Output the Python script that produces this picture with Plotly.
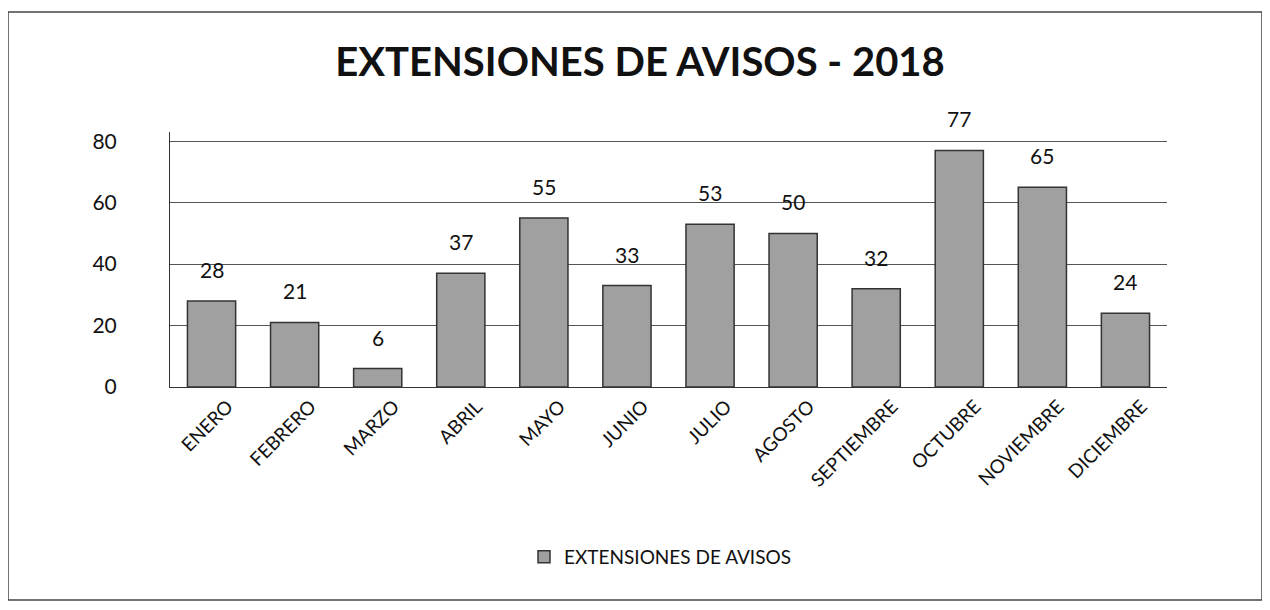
import plotly.graph_objects as go

months = ["ENERO", "FEBRERO", "MARZO", "ABRIL", "MAYO", "JUNIO", "JULIO",
          "AGOSTO", "SEPTIEMBRE", "OCTUBRE", "NOVIEMBRE", "DICIEMBRE"]
values = [28, 21, 6, 37, 55, 33, 53, 50, 32, 77, 65, 24]
series_name = "EXTENSIONES DE AVISOS"
title_text = "EXTENSIONES DE AVISOS - 2018"
y_ticks = [0, 20, 40, 60, 80]

W, H = 1270, 610
OFF = 8  # page body margin
L, R = 170 - OFF, 1270 - (1167 - OFF)
T = 132 - OFF
B = 610 - (387 - OFF)
pw, ph = W - L - R, H - T - B


def px_x(x):
    return (x - OFF - L) / pw


def px_y(y):
    return (H - B - (y - OFF)) / ph


fig = go.Figure()
fig.add_trace(go.Bar(
    x=months, y=values, name=series_name,
    marker=dict(color="#a0a0a0", line=dict(color="#333333", width=1.5)),
    width=0.58,
))

for m, v in zip(months, values):
    fig.add_annotation(x=m, y=v, text=str(v), showarrow=False,
                       yanchor="bottom", yshift=17,
                       font=dict(size=21, family="Lato", color="#111111"))

fig.add_shape(type="rect", xref="paper", yref="paper",
              x0=px_x(8), x1=px_x(1262), y0=px_y(600), y1=px_y(12),
              line=dict(color="#444444", width=1.5), fillcolor="rgba(0,0,0,0)",
              layer="below")

fig.update_layout(
    width=W, height=H,
    margin=dict(l=L, r=R, t=T, b=B),
    paper_bgcolor="white", plot_bgcolor="white",
    title=dict(text="<b>" + title_text + "</b>", x=px_x(640), xref="paper",
               xanchor="center", y=1 - (62 - OFF) / H, yanchor="middle",
               font=dict(size=40, family="Lato", color="#111111")),
    font=dict(family="Lato", color="#111111"),
    showlegend=True,
    legend=dict(orientation="h", x=px_x(660), xanchor="center", y=px_y(557),
                yanchor="middle", font=dict(size=19, family="Lato")),
    xaxis=dict(tickangle=-45, tickfont=dict(size=19), showline=True,
               linecolor="#333333", ticks="", ticklabelshift=16),
    yaxis=dict(range=[0, 83], tickvals=y_ticks, tickfont=dict(size=21),
               showgrid=True, gridcolor="#555555", gridwidth=1,
               showline=True, linecolor="#333333", zeroline=False, ticks="",
               ticklabelstandoff=48),
)

fig.write_html("out.html")
